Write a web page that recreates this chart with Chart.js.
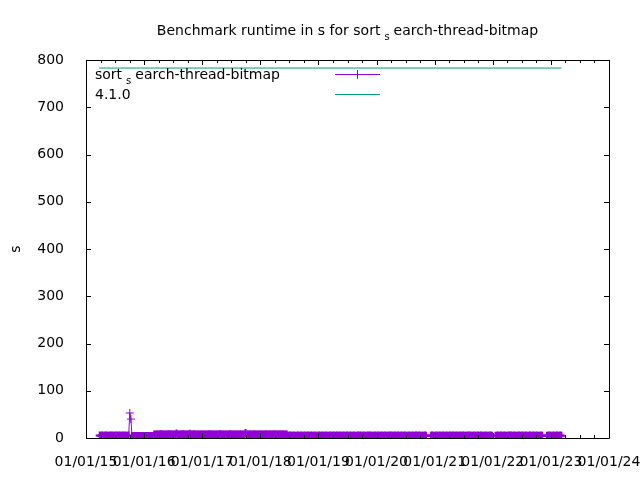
<!DOCTYPE html>
<html>
<head>
<meta charset="utf-8">
<title>Benchmark runtime</title>
<script src="https://cdn.jsdelivr.net/npm/chart.js@4.4.0/dist/chart.umd.min.js"></script>
<style>
  html, body { margin: 0; padding: 0; background: #fff; }
</style>
</head>
<body>
<canvas id="chart" width="640" height="480"></canvas>
<script>
// weekly benchmark runs, runtime in s; each block starts at a date in segmentStarts
const runs2015 = [
  5.1, 4.9, 5.2, 5.0, 4.8, 5.1, 5.3, 5.0, 4.9, 5.2,
  5.0, 5.1, 4.8, 5.0, 5.2, 4.9, 5.1, 5.0, 5.3, 4.9,
  5.0, 5.1, 4.8, 5.2, 5.0, 4.9, 5.1, 53.0, 40.0, 4.3,
  4.1, 4.4, 4.0, 4.2, 4.3, 4.1, 4.0, 4.4, 4.2, 4.1
];
const runs2016 = [
  4.2, 4.0, 4.3, 4.1, 4.4, 4.2, 4.0, 4.3, 4.1, 7.3,
  7.5, 7.2, 7.6, 7.4, 7.3, 7.7, 7.4, 7.2, 7.5, 7.6,
  7.3, 7.4, 7.7, 7.2, 7.5, 7.4, 7.3, 7.6, 7.5, 9.4,
  7.4, 7.2, 7.6, 7.3, 7.5, 7.7, 7.4, 7.2, 7.5, 7.3,
  7.6, 9.2, 7.4, 7.5, 7.3, 7.7, 7.4, 7.2, 7.5, 7.6,
  7.3, 7.4
];
const runs2017 = [
  7.5, 7.3, 7.6, 7.4, 7.2, 7.5, 7.7, 7.4, 7.3, 7.6,
  7.4, 7.5, 7.2, 7.6, 7.3, 7.4, 7.7, 7.5, 7.3, 7.4,
  7.6, 7.2, 7.5, 7.4, 7.3, 7.7, 7.5, 7.4, 7.2, 7.6,
  7.3, 7.5, 7.4, 7.6, 7.3, 7.5, 7.2, 7.4, 7.6, 10.4,
  7.5, 7.3, 7.4, 7.6, 7.2, 7.5, 7.4, 7.7, 7.3, 7.5,
  7.4, 7.6, 7.3
];
const runs2018 = [
  7.4, 7.6, 7.3, 7.5, 7.7, 7.4, 7.2, 7.5, 7.6, 7.3,
  7.4, 7.5, 7.7, 7.3, 7.6, 7.4, 7.2, 7.5, 7.4, 7.6,
  7.3, 7.5, 7.4, 7.6, 5.0, 4.8, 5.1, 4.9, 5.0, 5.2,
  4.9, 5.0, 4.8, 5.1, 5.0, 4.9, 5.2, 5.0, 4.8, 5.1,
  5.0, 4.9, 5.1, 5.0, 4.8, 5.2, 4.9, 5.0, 5.1, 4.9,
  5.0, 4.8
];
const runs2019 = [
  5.1, 4.9, 5.0, 5.2, 4.8, 5.0, 5.1, 4.9, 5.0, 4.8,
  5.2, 5.0, 4.9, 5.1, 5.0, 4.8, 5.1, 5.0, 4.9, 5.2,
  5.0, 4.9, 5.1, 4.8, 5.0, 5.1, 4.9, 5.0, 5.2, 4.8,
  5.0, 5.1, 4.9, 5.0, 4.8, 5.1, 5.0, 5.2, 4.9, 5.0,
  5.1, 4.8, 5.0, 4.9, 5.1, 5.0, 5.2, 4.9, 5.0, 4.8,
  5.1, 5.0
];
const runs2020 = [
  4.9, 5.1, 5.0, 4.8, 5.2, 5.0, 4.9, 5.1, 5.0, 4.8,
  5.0, 5.1, 4.9, 5.2, 5.0, 4.8, 5.1, 4.9, 5.0, 5.1,
  5.0, 4.8, 5.2, 4.9, 5.0, 5.1, 4.9, 5.0, 4.8, 5.1,
  5.0, 4.9, 5.2, 5.0, 4.8, 5.1, 5.0, 4.9, 5.1, 5.0,
  4.8, 5.0, 4.9, 5.1, 5.0
];
const runs2021 = [
  5.0, 5.1, 4.9, 5.0, 4.8, 5.2, 5.0, 4.9, 5.1, 5.0,
  4.8, 5.1, 5.0, 4.9, 5.2, 5.0, 4.9, 5.1, 4.8, 5.0,
  5.1, 4.9, 5.0, 5.2, 4.8, 5.0, 5.1, 4.9, 5.0, 5.1,
  4.8, 5.0, 4.9, 5.2, 5.0, 5.1, 4.9, 5.0, 4.8, 5.1,
  5.0, 4.9, 5.1, 5.0, 4.8, 5.2, 5.0, 4.9, 5.0, 5.1,
  4.9, 5.0, 4.8, 5.1, 5.0, 4.9
];
const runs2022 = [
  5.0, 4.9, 5.1, 5.0, 4.8, 5.2, 5.0, 4.9, 5.1, 5.0,
  4.8, 5.0, 5.1, 4.9, 5.2, 5.0, 4.8, 5.1, 5.0, 4.9,
  5.0, 5.1, 4.8, 5.0, 5.2, 4.9, 5.0, 5.1, 4.9, 5.0,
  4.8, 5.1, 5.0, 4.9, 5.2, 5.0, 4.9, 5.1, 5.0, 4.8,
  5.0, 5.1, 4.9
];
const runs2023 = [
  5.0, 4.9, 5.1, 5.0, 4.8, 5.0, 5.1, 4.9, 5.0, 5.2,
  5.0, 4.9, 5.1, 5.0
];
const segmentStarts = ["2015-03-28", "2020-12-08", "2022-01-18", "2022-12-07"];
const segmentRuns = [
  [...runs2015, ...runs2016, ...runs2017, ...runs2018, ...runs2019, ...runs2020],
  runs2021, runs2022, runs2023
];
const runStepDays = 7;

// release marker line
const releaseDates = ["2015-03-25", "2023-03-08"];
const releaseTimes = [783, 783];

const yearTicks = [2015, 2016, 2017, 2018, 2019, 2020, 2021, 2022, 2023, 2024];
const yTicks = [0, 100, 200, 300, 400, 500, 600, 700, 800];

const titleParts = [["Benchmark runtime in s for sort", false], ["s", true], ["earch-thread-bitmap", false]];
const seriesParts = [["sort", false], ["s", true], ["earch-thread-bitmap", false]];

// ms timestamp -> decimal year
function toYear(ms) {
  const y = new Date(ms).getUTCFullYear();
  const a = Date.UTC(y, 0, 1), b = Date.UTC(y + 1, 0, 1);
  return y + (ms - a) / (b - a);
}
const dayMs = 86400000;
const runPoints = [];
segmentStarts.forEach((start, s) => {
  const t0 = Date.parse(start + "T00:00:00Z");
  segmentRuns[s].forEach((v, i) => {
    runPoints.push({ x: toYear(t0 + i * runStepDays * dayMs), y: v });
  });
});
const releasePoints = releaseDates.map((d, i) => ({ x: toYear(Date.parse(d + "T00:00:00Z")), y: releaseTimes[i] }));

const FONT = "DejaVu Sans";
Chart.defaults.font.family = FONT;
Chart.defaults.font.size = 14;
Chart.defaults.color = "#000";

// text with gnuplot style subscripts
function richWidth(ctx, parts) {
  let w = 0;
  parts.forEach(([t, sub]) => {
    ctx.font = (sub ? 10 : 14) + "px '" + FONT + "'";
    w += ctx.measureText(t).width;
    if (sub) w += 8;
  });
  return w;
}
function drawRich(ctx, parts, x, y) {
  parts.forEach(([t, sub]) => {
    ctx.font = (sub ? 10 : 14) + "px '" + FONT + "'";
    if (sub) x += 4;
    ctx.fillText(t, x, sub ? y + 5 : y);
    x += ctx.measureText(t).width;
    if (sub) x += 4;
  });
}

const gnuplotFrame = {
  id: "gnuplotFrame",
  afterDatasetsDraw(chart) {
    const { ctx, chartArea: a, scales } = chart;
    ctx.save();
    ctx.strokeStyle = "#000";
    ctx.lineWidth = 1;
    ctx.beginPath();
    ctx.rect(a.left + 0.5, a.top + 0.5, a.right - a.left, a.bottom - a.top);
    // y tics, left and right
    yTicks.forEach(v => {
      const py = Math.round(scales.y.getPixelForValue(v)) + 0.5;
      ctx.moveTo(a.left, py); ctx.lineTo(a.left + 5, py);
      ctx.moveTo(a.right, py); ctx.lineTo(a.right - 5, py);
    });
    // x tics with quarter minor tics, bottom and top
    yearTicks.forEach(yr => {
      for (let q = 0; q < 4; q++) {
        const v = yr + q / 4;
        if (v > scales.x.max) break;
        const px = Math.round(scales.x.getPixelForValue(v)) + 0.5;
        const len = q === 0 ? 5 : 3;
        ctx.moveTo(px, a.bottom); ctx.lineTo(px, a.bottom - len);
        ctx.moveTo(px, a.top); ctx.lineTo(px, a.top + len);
      }
    });
    ctx.stroke();

    // title
    ctx.fillStyle = "#000";
    ctx.textBaseline = "alphabetic";
    ctx.textAlign = "left";
    const tw = richWidth(ctx, titleParts);
    drawRich(ctx, titleParts, (a.left + a.right) / 2 - tw / 2, 35);

    // key
    const ds = chart.data.datasets;
    drawRich(ctx, seriesParts, a.left + 9, a.top + 19);
    ctx.font = "14px '" + FONT + "'";
    ctx.fillText(ds[1].label, a.left + 9, a.top + 39);
    ctx.lineWidth = 1;
    ctx.strokeStyle = ds[0].borderColor;
    ctx.beginPath();
    ctx.moveTo(a.left + 249, a.top + 14.5); ctx.lineTo(a.left + 294, a.top + 14.5);
    ctx.moveTo(a.left + 271.5, a.top + 10); ctx.lineTo(a.left + 271.5, a.top + 19);
    ctx.stroke();
    ctx.strokeStyle = ds[1].borderColor;
    ctx.beginPath();
    ctx.moveTo(a.left + 249, a.top + 34.5); ctx.lineTo(a.left + 294, a.top + 34.5);
    ctx.stroke();
    ctx.restore();
  }
};

const ctx = document.getElementById("chart").getContext("2d");
const chart = new Chart(ctx, {
  type: "line",
  data: {
    datasets: [
      {
        label: "sort_search-thread-bitmap",
        data: runPoints,
        borderColor: "#9400d3",
        backgroundColor: "#9400d3",
        borderWidth: 1,
        pointStyle: "cross",
        pointRadius: 4,
        pointHoverRadius: 4,
        // dense runs overlap into a solid band; the isolated spike keeps thin crosses
        pointBorderWidth: c => (c.raw && c.raw.y > 20 ? 1 : 2),
        tension: 0
      },
      {
        label: "4.1.0",
        data: releasePoints,
        borderColor: "#009e73",
        borderWidth: 1,
        pointRadius: 0,
        tension: 0
      }
    ]
  },
  options: {
    responsive: false,
    animation: false,
    devicePixelRatio: 1,
    layout: { padding: { top: 60, right: 31, left: 0, bottom: 0 } },
    plugins: {
      legend: { display: false },
      title: { display: false },
      tooltip: { enabled: false }
    },
    scales: {
      x: {
        type: "linear",
        min: yearTicks[0],
        max: yearTicks[yearTicks.length - 1],
        grid: { display: false },
        border: { display: false },
        afterBuildTicks: s => { s.ticks = yearTicks.map(v => ({ value: v })); },
        afterFit: s => { s.height = 42; s.paddingLeft = 0; s.paddingRight = 0; },
        ticks: {
          autoSkip: false,
          maxRotation: 0,
          minRotation: 0,
          padding: 8,
          callback: v => "01/01/" + String(v).slice(2)
        }
      },
      y: {
        min: yTicks[0],
        max: yTicks[yTicks.length - 1],
        grid: { display: false },
        border: { display: false },
        afterBuildTicks: s => { s.ticks = yTicks.map(v => ({ value: v })); },
        afterFit: s => { s.width = 86; s.paddingTop = 0; s.paddingBottom = 0; },
        ticks: { padding: 14 },
        title: { display: true, text: "s", padding: { top: 8, bottom: 0 } }
      }
    }
  },
  plugins: [gnuplotFrame]
});
</script>
</body>
</html>
